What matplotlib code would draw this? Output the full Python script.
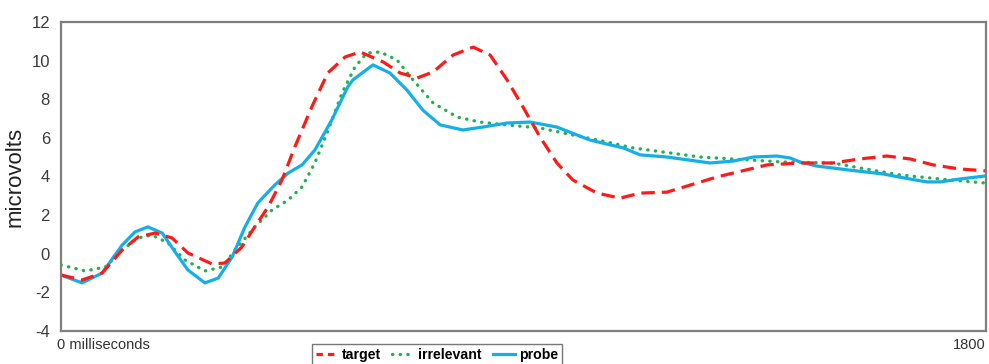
import numpy as np
import matplotlib
matplotlib.use('Agg')
import matplotlib.pyplot as plt
from matplotlib.lines import Line2D

plt.rcParams['font.family'] = 'sans-serif'
plt.rcParams['font.sans-serif'] = ['Liberation Sans', 'DejaVu Sans']

# Werte (ms, Mikrovolt)
target_ms = [0, 41, 80, 119, 150, 183, 216, 247, 294, 319, 352, 377, 403, 430, 455,
             488, 519, 553, 582, 627, 660, 693, 724, 763, 802, 835, 868, 899, 932,
             965, 996, 1043, 1088, 1127, 1179, 1277, 1374, 1438, 1502, 1555, 1607,
             1652, 1697, 1749, 1800]
target_uv = [-1.10, -1.36, -1.00, 0.19, 0.87, 1.07, 0.82, 0.04, -0.53, -0.48, 0.35,
             1.39, 2.42, 3.82, 5.53, 7.60, 9.36, 10.19, 10.45, 9.93, 9.36, 9.10, 9.41,
             10.29, 10.70, 10.29, 9.00, 7.60, 6.05, 4.70, 3.82, 3.14, 2.88, 3.14, 3.19,
             3.98, 4.60, 4.70, 4.70, 4.91, 5.06, 4.91, 4.60, 4.39, 4.29]

irrelevant_ms = [0, 47, 86, 119, 150, 177, 208, 241, 280, 313, 344, 377, 411, 442,
                 469, 494, 520, 547, 572, 595, 621, 654, 685, 724, 771, 815, 868, 932,
                 996, 1062, 1113, 1243, 1405, 1502, 1555, 1633, 1730, 1800]
irrelevant_uv = [-0.58, -0.89, -0.69, 0.19, 0.82, 0.97, 0.56, -0.32, -0.89, -0.69,
                 0.35, 1.39, 2.27, 2.78, 3.46, 4.70, 6.41, 8.33, 9.67, 10.39, 10.45,
                 10.03, 9.00, 7.81, 7.08, 6.82, 6.67, 6.51, 6.15, 5.79, 5.48, 5.01,
                 4.75, 4.70, 4.44, 4.08, 3.82, 3.66]

probe_ms = [0, 41, 80, 119, 144, 169, 197, 222, 247, 280, 306, 333, 358, 383, 416,
            442, 469, 494, 527, 558, 568, 607, 640, 673, 704, 738, 782, 821, 868, 913,
            965, 1029, 1094, 1127, 1179, 1263, 1308, 1347, 1393, 1419, 1438, 1471,
            1535, 1600, 1652, 1685, 1711, 1749, 1800]
probe_uv = [-1.10, -1.51, -1.00, 0.45, 1.13, 1.39, 1.07, 0.09, -0.84, -1.51, -1.26,
            -0.17, 1.39, 2.63, 3.56, 4.18, 4.60, 5.37, 6.93, 8.64, 9.00, 9.78, 9.36,
            8.48, 7.44, 6.67, 6.41, 6.56, 6.77, 6.82, 6.56, 5.89, 5.48, 5.12, 5.01,
            4.70, 4.80, 5.01, 5.06, 4.96, 4.75, 4.54, 4.33, 4.13, 3.87, 3.72, 3.72,
            3.87, 4.03]

yticks = [-4, -2, 0, 2, 4, 6, 8, 10, 12]

fig = plt.figure(figsize=(9.89, 3.64), dpi=100)
ax = fig.add_axes([61 / 989, 1 - 331 / 364, 925 / 989, 309 / 364])

ax.plot(irrelevant_ms, irrelevant_uv, color='#22b14c', lw=2.4,
        linestyle=(0, (0.1, 2.2)), dash_capstyle='round', solid_joinstyle='round')
ax.plot(probe_ms, probe_uv, color='#14aee8', lw=2.3, solid_joinstyle='round',
        solid_capstyle='round')
ax.plot(target_ms, target_uv, color='#ff1a1a', lw=2.3, linestyle=(0, (4.2, 2.2)),
        dash_joinstyle='round')

ax.set_xlim(0, 1800)
ax.set_ylim(-4, 12)
ax.set_yticks(yticks)
ax.set_yticklabels([str(t) for t in yticks], fontsize=12, color='#3a3a3a')
ax.set_xticks([])
ax.tick_params(axis='y', length=0, pad=8)
for s in ax.spines.values():
    s.set_color('#7f7f7f')
    s.set_linewidth(1.6)

ax.set_ylabel('microvolts', fontsize=16, color='#222222', labelpad=4)
ax.text(-0.004, -0.022, '0 milliseconds', transform=ax.transAxes, ha='left', va='top',
        fontsize=10.5, color='#333333')
ax.text(1.0, -0.022, '1800', transform=ax.transAxes, ha='right', va='top',
        fontsize=10.5, color='#333333')

handles = [
    Line2D([], [], color='#ff1a1a', lw=2.3, linestyle=(0, (2.0, 1.6))),
    Line2D([], [], color='#22b14c', lw=2.4, linestyle=(0, (0.1, 2.2)),
           dash_capstyle='round'),
    Line2D([], [], color='#14aee8', lw=2.3),
]
leg = fig.legend(handles, ['target', 'irrelevant', 'probe'], loc='upper left',
                 bbox_to_anchor=(312 / 989, 1 - 344 / 364), ncol=3, frameon=True,
                 fancybox=False, prop={'weight': 'bold', 'size': 10.2},
                 handlelength=1.5, handletextpad=0.35, columnspacing=0.8,
                 borderpad=0.25, borderaxespad=0)
leg.get_frame().set_edgecolor('#555555')
leg.get_frame().set_linewidth(1.0)

fig.savefig('out.png', dpi=100)
